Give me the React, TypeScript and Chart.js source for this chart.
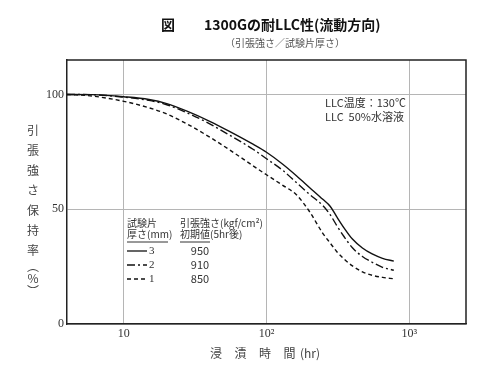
import React, { useEffect, useRef } from "react";
import { Chart, registerables } from "chart.js";
Chart.register(...registerables);

// immersion time (hr)
const hours = [4, 6, 10, 15, 20, 28, 40, 55, 81, 100, 130, 162, 200, 248, 280, 310, 350, 400, 470, 550, 650, 780];
// tensile strength retention (%) by specimen thickness
const thick3mm = [100, 99.9, 99, 97.8, 96.0, 92.6, 88.3, 83.9, 78.2, 74.8, 69.6, 64.6, 59.5, 54.3, 51.2, 46.8, 41.8, 37, 33.1, 30.5, 28.6, 27.4];
const thick2mm = [100, 99.9, 98.8, 97.4, 95.5, 91.9, 87.2, 82.3, 76, 72, 66.9, 61.6, 56.5, 51.6, 47.5, 43, 38, 33.2, 29.4, 26.9, 24.7, 23.4];
const thick1mm = [100, 99.3, 97, 94.2, 91.5, 87, 81.4, 75.9, 68.8, 65, 60.4, 56.3, 49, 39.5, 35.2, 31.6, 28.3, 25.3, 22.7, 21.2, 20.3, 19.7];

const xTicks = [10, 100, 1000];
const xTickLabels = ["10", "10²", "10³"];
const yTicks = [0, 50, 100];
const yTickLabels = ["0", "50", "100"];

const thicknessLabels = ["3", "2", "1"];
const initialStrength = ["950", "910", "850"];

const figLabel = "図";
const titleText = "1300Gの耐LLC性(流動方向)";
const subtitleText = "（引張強さ／試験片厚さ）";
const yTitleChars = ["引", "張", "強", "さ", "保", "持", "率"];
const xTitleChars = ["浸", "漬", "時", "間"];
const xTitleUnit = "(hr)";
const noteLines = ["LLC温度：130℃", "LLC  50%水溶液"];
const legendHead1 = ["試験片", "厚さ(mm)"];
const legendHead2 = ["引張強さ(kgf/cm²)", "初期値(5hr後)"];

const dashes: number[][] = [[], [8, 3, 2, 3], [4, 3]];

const JP = '"Noto Sans CJK JP", "Noto Sans", sans-serif';
const SERIF = '"Liberation Serif", "DejaVu Serif", serif';

const overlay = {
  id: "overlay",
  afterDraw(chart: any) {
    const ctx = chart.ctx;
    const a = chart.chartArea;
    ctx.save();
    // frame top & right
    ctx.strokeStyle = "#222";
    ctx.lineWidth = 1.5;
    ctx.beginPath();
    ctx.moveTo(a.left, a.top);
    ctx.lineTo(a.right, a.top);
    ctx.lineTo(a.right, a.bottom);
    ctx.stroke();

    // titles
    ctx.fillStyle = "#111";
    ctx.textBaseline = "middle";
    ctx.textAlign = "left";
    ctx.font = `bold 14px ${JP}`;
    ctx.fillText(figLabel, 161, 25);
    ctx.fillText(titleText, 204, 25);
    ctx.fillStyle = "#555";
    ctx.font = `10px ${JP}`;
    ctx.fillText(subtitleText, 225, 43);

    // y title vertical
    ctx.fillStyle = "#444";
    ctx.textAlign = "center";
    ctx.font = `12px ${JP}`;
    yTitleChars.forEach((c, i) => ctx.fillText(c, 33, 130 + i * 20));
    ctx.fillText("︵", 33, 266);
    ctx.fillText("%", 33, 278);
    ctx.fillText("︶", 33, 291);

    // x title
    ctx.font = `12px ${JP}`;
    xTitleChars.forEach((c, i) => ctx.fillText(c, 216 + i * 24.5, 353));
    ctx.textAlign = "left";
    ctx.fillText(xTitleUnit, 300, 353);

    // note
    ctx.font = `11px ${JP}`;
    ctx.fillStyle = "#333";
    noteLines.forEach((t, i) => ctx.fillText(t, 325, 103 + i * 14));

    // legend
    ctx.font = `10px ${JP}`;
    ctx.fillStyle = "#333";
    ctx.fillText(legendHead1[0], 127, 223);
    ctx.fillText(legendHead1[1], 127, 234);
    ctx.fillText(legendHead2[0], 180, 223);
    ctx.fillText(legendHead2[1], 180, 234);
    ctx.strokeStyle = "#333";
    ctx.lineWidth = 1;
    ctx.beginPath();
    ctx.moveTo(127, 242);
    ctx.lineTo(168, 242);
    ctx.moveTo(180, 242);
    ctx.lineTo(210, 242);
    ctx.stroke();
    const rowY = [251, 265, 279];
    chart.data.datasets.forEach((ds: any, i: number) => {
      ctx.strokeStyle = "#111";
      ctx.lineWidth = 1.3;
      ctx.setLineDash(ds.borderDash || []);
      ctx.beginPath();
      ctx.moveTo(127, rowY[i]);
      ctx.lineTo(147, rowY[i]);
      ctx.stroke();
      ctx.setLineDash([]);
      ctx.fillStyle = "#333";
      ctx.textAlign = "left";
      ctx.font = `11px ${SERIF}`;
      ctx.fillText(thicknessLabels[i], 149, rowY[i]);
      ctx.textAlign = "center";
      ctx.font = `11px ${JP}`;
      ctx.fillText(initialStrength[i], 200, rowY[i]);
    });
    ctx.restore();
  },
};

export default function App() {
  const ref = useRef<HTMLCanvasElement>(null);
  useEffect(() => {
    if (!ref.current) return;
    const series = [thick3mm, thick2mm, thick1mm];
    const chart = new Chart(ref.current, {
      type: "line",
      data: {
        datasets: series.map((s, i) => ({
          label: thicknessLabels[i],
          data: hours.map((h, j) => ({ x: h, y: s[j] })),
          borderColor: "#111",
          borderWidth: 1.4,
          borderDash: dashes[i],
          pointRadius: 0,
          fill: false,
          cubicInterpolationMode: "monotone",
        })),
      },
      options: {
        animation: false,
        responsive: false,
        maintainAspectRatio: false,
        layout: { padding: { top: 60, right: 34, left: 0, bottom: 0 } },
        plugins: { legend: { display: false }, tooltip: { enabled: false }, title: { display: false } },
        scales: {
          x: {
            type: "logarithmic",
            min: 4,
            max: 2500,
            afterBuildTicks: (s: any) => {
              s.ticks = xTicks.map((v) => ({ value: v }));
            },
            afterFit: (s: any) => {
              s.height = 52;
            },
            ticks: {
              autoSkip: false,
              maxRotation: 0,
              padding: 3,
              color: "#333",
              font: { family: SERIF, size: 12 },
              callback: (_v: any, i: number) => xTickLabels[i],
            },
            grid: { color: "#b5b5b5", lineWidth: 1, drawTicks: false },
            border: { color: "#222", width: 1.5 },
          },
          y: {
            min: 0,
            max: 115,
            afterBuildTicks: (s: any) => {
              s.ticks = yTicks.map((v) => ({ value: v }));
            },
            afterFit: (s: any) => {
              s.width = 67;
            },
            ticks: {
              padding: 3,
              color: "#333",
              font: { family: SERIF, size: 12 },
              callback: (_v: any, i: number) => yTickLabels[i],
            },
            grid: { color: "#b5b5b5", lineWidth: 1, drawTicks: false },
            border: { color: "#222", width: 1.5 },
          },
        },
      },
      plugins: [overlay],
    } as any);
    return () => chart.destroy();
  }, []);
  return (
    <div style={{ position: "absolute", left: 0, top: 0, width: 500, height: 376, background: "#fff" }}>
      <canvas ref={ref} width={500} height={376} />
    </div>
  );
}
